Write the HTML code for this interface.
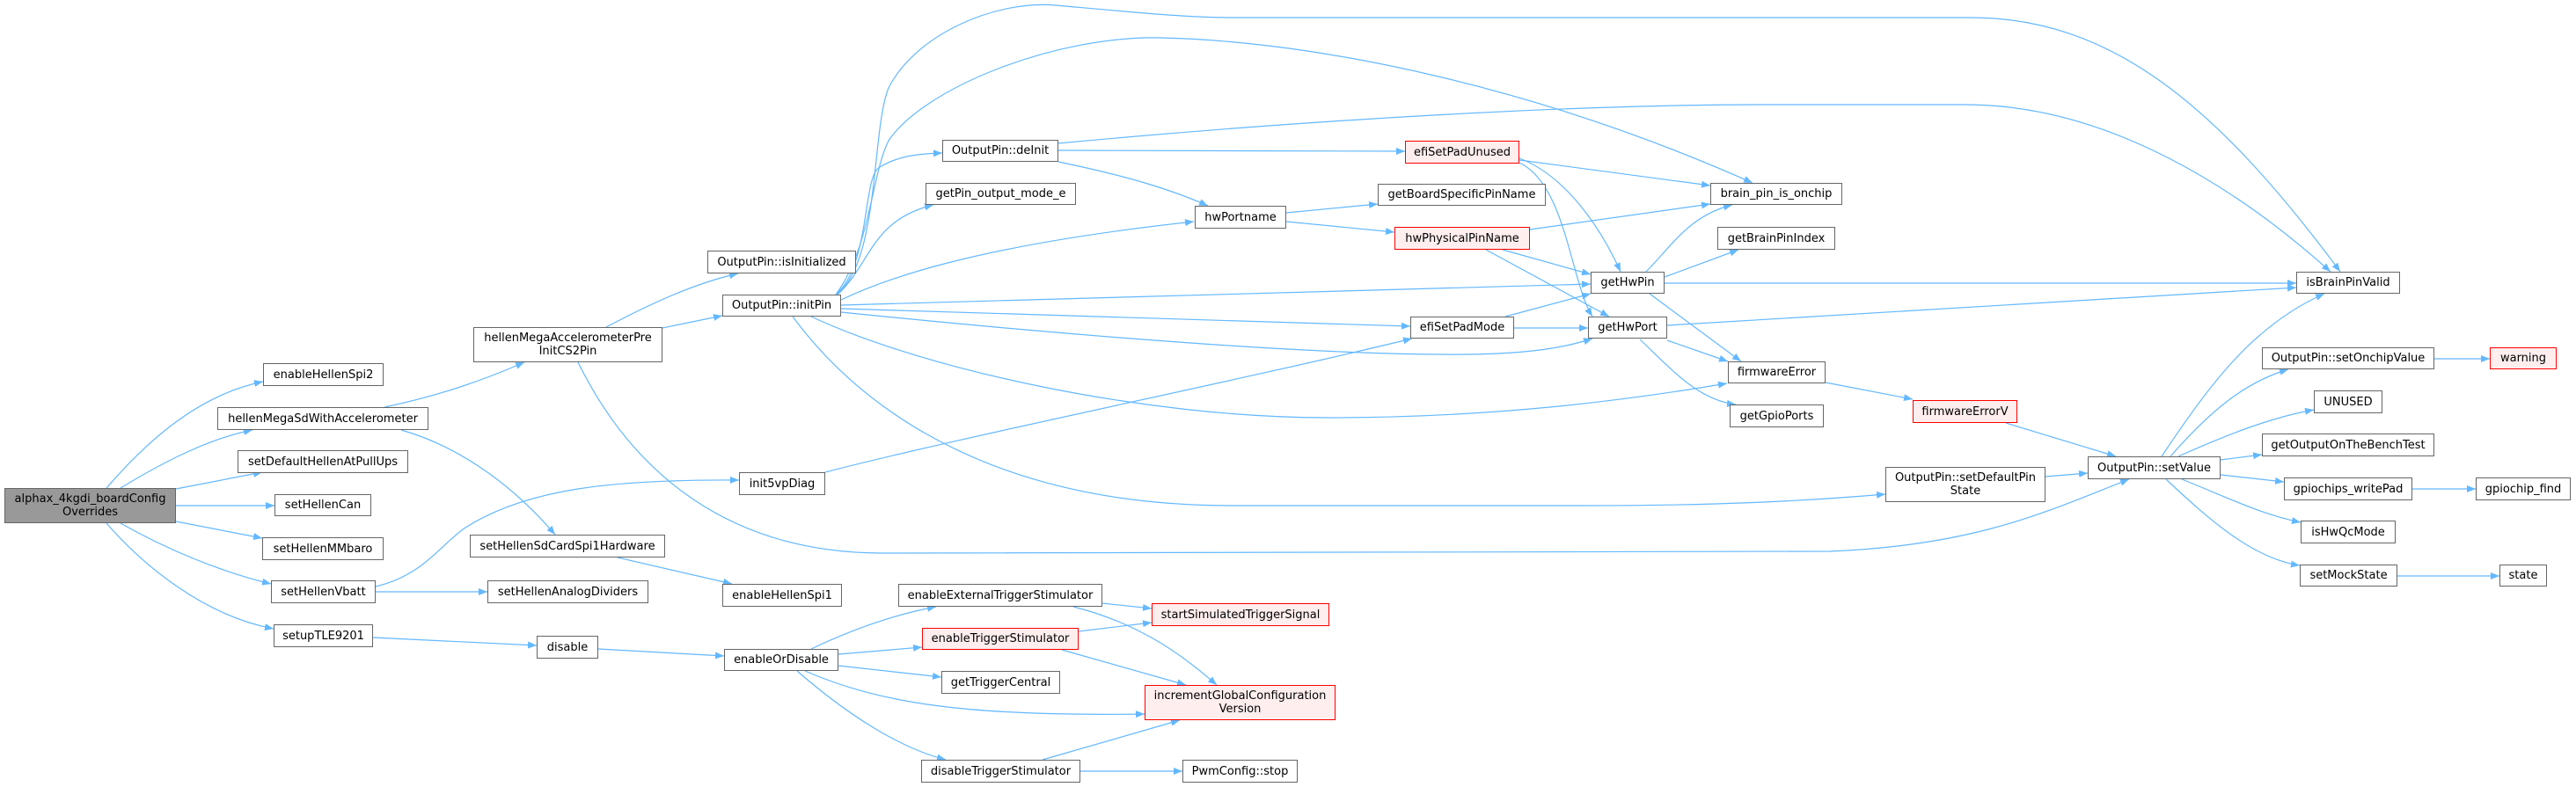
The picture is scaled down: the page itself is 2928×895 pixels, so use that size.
<!DOCTYPE html>
<html><head><meta charset="utf-8"><style>
html,body{margin:0;padding:0;background:#fff;}
body{width:2928px;height:895px;position:relative;overflow:hidden;font-family:"DejaVu Sans","Liberation Sans",sans-serif;font-size:13px;}
.n{position:absolute;box-sizing:border-box;border:1px solid #666;background:#fff;display:flex;align-items:center;justify-content:center;text-align:center;line-height:15px;color:#000;white-space:nowrap;}
.r{border-color:#f00;background:#fee;}
.g{background:#999;}
svg{position:absolute;left:0;top:0;}
</style></head><body>
<svg width="2928" height="895" viewBox="0 0 2928 895">
<defs><marker id="a" markerWidth="10" markerHeight="8" refX="10" refY="4" orient="auto" markerUnits="userSpaceOnUse"><path d="M0,0 L10,4 L0,8 z" fill="#63b8ff"/></marker></defs>
<g fill="none" stroke="#63b8ff" stroke-width="1.2" marker-end="url(#a)">
<path d="M121,555 C160,510 220,450 299,434"/>
<path d="M137,555 C170,535 230,500 287,489"/>
<path d="M200,556 L298,537"/>
<path d="M200,575 L312,575"/>
<path d="M200,593 L298,612"/>
<path d="M137,595 C190,625 250,650 308,664"/>
<path d="M121,595 C160,640 230,700 311,715"/>
<path d="M437,463 C500,450 550,432 596,412"/>
<path d="M456,489 C530,510 590,560 631,608"/>
<path d="M689,372 C740,345 790,322 839,311"/>
<path d="M753,373 L821,359"/>
<path d="M657,412 C720,540 830,628 1000,629 L2080,627 C2250,620 2330,580 2420,545"/>
<path d="M427,667 C480,655 500,620 529,600 C600,555 700,545 840,546"/>
<path d="M427,673 L554,673"/>
<path d="M702,634 L832,664"/>
<path d="M424,725 L610,734"/>
<path d="M680,738 L823,746"/>
<path d="M938,537 C1100,495 1400,435 1605,385"/>
<path d="M950,335 C1000,300 990,150 1010,100 C1040,40 1130,0 1200,6 C1300,15 1350,20 1400,20 L2240,20 C2400,20 2520,120 2660,309"/>
<path d="M950,335 C990,280 990,200 1010,160 C1050,100 1200,40 1320,43 C1500,47 1750,100 1992,208"/>
<path d="M950,335 C990,300 980,200 1000,190 C1020,178 1040,175 1071,174"/>
<path d="M952,335 C990,300 990,250 1061,233"/>
<path d="M956,341 C1000,320 1100,280 1357,252"/>
<path d="M956,347 L1808,323"/>
<path d="M956,351 L1603,371"/>
<path d="M956,355 C1200,380 1500,405 1670,403 C1740,402 1780,395 1810,385"/>
<path d="M922,360 C1050,420 1300,475 1510,475 C1700,475 1850,455 1963,436"/>
<path d="M901,360 C960,440 1100,575 1400,575 L1800,575 C1950,575 2050,570 2143,562"/>
<path d="M1203,163 C1500,135 1800,119 2000,119 L2234,119 C2400,119 2550,220 2649,309"/>
<path d="M1203,171 L1597,172"/>
<path d="M1203,184 C1280,200 1330,215 1373,234"/>
<path d="M1462,242 L1566,232"/>
<path d="M1462,252 L1585,264"/>
<path d="M1727,182 L1944,211"/>
<path d="M1727,180 C1780,200 1820,260 1842,309"/>
<path d="M1727,185 C1780,210 1785,320 1810,360"/>
<path d="M1739,261 L1944,232"/>
<path d="M1708,284 L1808,312"/>
<path d="M1689,284 L1829,360"/>
<path d="M1871,309 C1900,280 1920,245 1969,233"/>
<path d="M1892,315 L1976,284"/>
<path d="M1892,322 L2610,322"/>
<path d="M1875,334 L1979,411"/>
<path d="M1711,360 L1808,334"/>
<path d="M1721,373 L1805,373"/>
<path d="M1895,370 L2610,327"/>
<path d="M1895,387 L1964,411"/>
<path d="M1864,386 C1900,420 1930,455 1973,460"/>
<path d="M2075,435 L2174,454"/>
<path d="M2280,481 L2405,519"/>
<path d="M2325,542 L2373,538"/>
<path d="M2457,519 C2510,440 2560,370 2642,334"/>
<path d="M2467,519 C2510,470 2550,435 2601,420"/>
<path d="M2476,519 C2530,495 2580,475 2630,466"/>
<path d="M2524,523 L2571,517"/>
<path d="M2524,540 L2596,548"/>
<path d="M2480,545 C2530,565 2570,585 2615,594"/>
<path d="M2462,545 C2510,590 2560,635 2614,643"/>
<path d="M2767,408 L2830,408"/>
<path d="M2742,556 L2814,556"/>
<path d="M2725,655 L2841,655"/>
<path d="M922,738 C960,720 1010,700 1064,690"/>
<path d="M953,744 L1048,736"/>
<path d="M953,757 L1070,770"/>
<path d="M915,763 C1000,800 1100,815 1301,812"/>
<path d="M906,763 C960,810 1020,850 1075,864"/>
<path d="M1253,686 L1309,692"/>
<path d="M1220,690 C1300,710 1350,750 1383,779"/>
<path d="M1226,718 L1309,708"/>
<path d="M1207,739 L1348,779"/>
<path d="M1185,864 L1341,819"/>
<path d="M1228,877 L1344,877"/>
</g></svg>
<div class="n g" style="left:5px;top:555px;width:195px;height:40px">alphax_4kgdi_boardConfig<br>Overrides</div>
<div class="n" style="left:299px;top:413px;width:137px;height:26px">enableHellenSpi2</div>
<div class="n" style="left:247px;top:463px;width:240px;height:26px">hellenMegaSdWithAccelerometer</div>
<div class="n" style="left:270px;top:512px;width:194px;height:26px">setDefaultHellenAtPullUps</div>
<div class="n" style="left:312px;top:562px;width:110px;height:25px">setHellenCan</div>
<div class="n" style="left:298px;top:611px;width:138px;height:26px">setHellenMMbaro</div>
<div class="n" style="left:308px;top:660px;width:119px;height:26px">setHellenVbatt</div>
<div class="n" style="left:311px;top:710px;width:113px;height:26px">setupTLE9201</div>
<div class="n" style="left:538px;top:372px;width:215px;height:40px">hellenMegaAccelerometerPre<br>InitCS2Pin</div>
<div class="n" style="left:534px;top:608px;width:222px;height:26px">setHellenSdCardSpi1Hardware</div>
<div class="n" style="left:554px;top:660px;width:183px;height:26px">setHellenAnalogDividers</div>
<div class="n" style="left:610px;top:723px;width:70px;height:26px">disable</div>
<div class="n" style="left:804px;top:285px;width:169px;height:26px">OutputPin::isInitialized</div>
<div class="n" style="left:821px;top:335px;width:135px;height:25px">OutputPin::initPin</div>
<div class="n" style="left:840px;top:537px;width:98px;height:26px">init5vpDiag</div>
<div class="n" style="left:821px;top:664px;width:136px;height:26px">enableHellenSpi1</div>
<div class="n" style="left:823px;top:738px;width:130px;height:25px">enableOrDisable</div>
<div class="n" style="left:1071px;top:159px;width:132px;height:25px">OutputPin::deInit</div>
<div class="n" style="left:1052px;top:208px;width:171px;height:25px">getPin_output_mode_e</div>
<div class="n" style="left:1358px;top:234px;width:104px;height:26px">hwPortname</div>
<div class="n r" style="left:1597px;top:160px;width:130px;height:26px">efiSetPadUnused</div>
<div class="n" style="left:1566px;top:209px;width:191px;height:25px">getBoardSpecificPinName</div>
<div class="n r" style="left:1585px;top:258px;width:154px;height:26px">hwPhysicalPinName</div>
<div class="n" style="left:1808px;top:309px;width:84px;height:25px">getHwPin</div>
<div class="n" style="left:1603px;top:360px;width:118px;height:25px">efiSetPadMode</div>
<div class="n" style="left:1805px;top:360px;width:90px;height:25px">getHwPort</div>
<div class="n" style="left:1021px;top:664px;width:232px;height:26px">enableExternalTriggerStimulator</div>
<div class="n r" style="left:1309px;top:686px;width:202px;height:26px">startSimulatedTriggerSignal</div>
<div class="n r" style="left:1048px;top:714px;width:178px;height:25px">enableTriggerStimulator</div>
<div class="n" style="left:1070px;top:763px;width:135px;height:26px">getTriggerCentral</div>
<div class="n r" style="left:1301px;top:779px;width:217px;height:40px">incrementGlobalConfiguration<br>Version</div>
<div class="n" style="left:1047px;top:864px;width:181px;height:26px">disableTriggerStimulator</div>
<div class="n" style="left:1344px;top:864px;width:131px;height:26px">PwmConfig::stop</div>
<div class="n" style="left:1944px;top:208px;width:150px;height:25px">brain_pin_is_onchip</div>
<div class="n" style="left:1952px;top:258px;width:134px;height:26px">getBrainPinIndex</div>
<div class="n" style="left:1964px;top:411px;width:111px;height:25px">firmwareError</div>
<div class="n" style="left:1966px;top:460px;width:107px;height:26px">getGpioPorts</div>
<div class="n r" style="left:2174px;top:455px;width:119px;height:26px">firmwareErrorV</div>
<div class="n" style="left:2143px;top:531px;width:182px;height:40px">OutputPin::setDefaultPin<br>State</div>
<div class="n" style="left:2373px;top:519px;width:151px;height:26px">OutputPin::setValue</div>
<div class="n" style="left:2610px;top:309px;width:118px;height:25px">isBrainPinValid</div>
<div class="n" style="left:2571px;top:395px;width:196px;height:25px">OutputPin::setOnchipValue</div>
<div class="n r" style="left:2830px;top:395px;width:76px;height:25px">warning</div>
<div class="n" style="left:2630px;top:444px;width:78px;height:26px">UNUSED</div>
<div class="n" style="left:2571px;top:493px;width:196px;height:26px">getOutputOnTheBenchTest</div>
<div class="n" style="left:2596px;top:543px;width:146px;height:26px">gpiochips_writePad</div>
<div class="n" style="left:2814px;top:543px;width:108px;height:26px">gpiochip_find</div>
<div class="n" style="left:2615px;top:592px;width:108px;height:26px">isHwQcMode</div>
<div class="n" style="left:2614px;top:642px;width:111px;height:25px">setMockState</div>
<div class="n" style="left:2841px;top:642px;width:54px;height:25px">state</div>
</body></html>
